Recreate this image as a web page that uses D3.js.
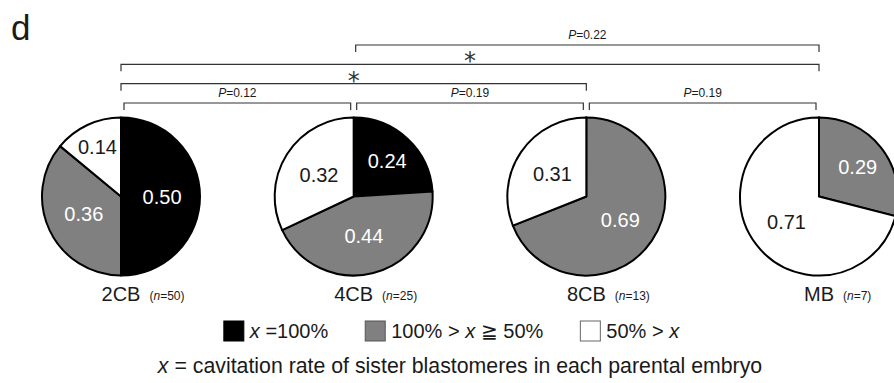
<!DOCTYPE html>
<meta charset="utf-8">
<style>
body { margin: 0; background: #fff; }
text { font-family: "Liberation Sans", Arial, Helvetica, sans-serif; fill: #1a1a1a; }
.bracket { fill: none; stroke: #333; stroke-width: 1.2px; }
.slice { stroke: #000; stroke-width: 2px; stroke-linejoin: round; }
</style>
<body>
<script src="https://d3js.org/d3.v7.min.js"></script>
<script>

// stages and their sample size
var stages = ['2CB', '4CB', '8CB', 'MB'];
var counts = [50, 25, 13, 7];

// proportion per category, in order [x=100%, 100%>x>=50%, 50%>x]
var full    = [0.50, 0.24, 0.00, 0.00];
var partial = [0.36, 0.44, 0.69, 0.29];
var low     = [0.14, 0.32, 0.31, 0.71];

var categories = ['full', 'partial', 'low'];
var catColor = {full: '#000000', partial: '#808080', low: '#ffffff'};

// pairwise comparisons
var comparisons = [
    ['4CB', 'MB', 'P=0.22'],
    ['2CB', 'MB', '*'],
    ['2CB', '8CB', '*'],
    ['2CB', '4CB', 'P=0.12'],
    ['4CB', '8CB', 'P=0.19'],
    ['8CB', 'MB', 'P=0.19']
];
var tiers = [0, 1, 2, 3, 3, 3];

var W = 894, H = 383;
var svg = d3.select("body").append("svg").attr("width", W).attr("height", H);

var x = d3.scalePoint().domain(stages).range([121, 819]);
var cy = 196.5, r = 79;
var tierY = d3.scaleLinear().domain([0, 3]).range([45, 103]);

svg.append("text").attr("x", 11).attr("y", 40)
    .style("font-size", "35px").text("d");

// pies
var pie = d3.pie().sort(null).value(d => d.v);
var arc = d3.arc().innerRadius(0).outerRadius(r);

stages.forEach(function(s, i) {
    var vals = [full[i], partial[i], low[i]].map((v, k) => ({cat: categories[k], v: v}));
    var g = svg.append("g").attr("transform", "translate(" + x(s) + "," + cy + ")");
    var arcs = pie(vals);
    g.selectAll("path").data(arcs).enter().append("path")
        .attr("class", "slice")
        .attr("d", arc)
        .attr("fill", d => catColor[d.data.cat]);
    g.selectAll("text.val").data(arcs.filter(d => d.data.v > 0)).enter().append("text")
        .attr("class", "val")
        .attr("transform", function(d) {
            var v = d.data.v;
            var lr = r * (v < 0.2 ? 0.7 : v < 0.3 ? 0.62 : 0.52);
            return "translate(" + d3.arc().innerRadius(lr).outerRadius(lr).centroid(d) + ")";
        })
        .attr("text-anchor", "middle")
        .attr("dy", "0.36em")
        .style("font-size", "20px")
        .style("fill", d => d.data.cat == 'low' ? '#1a1a1a' : '#fff')
        .text(d => d3.format(".2f")(d.data.v));

    var lab = svg.append("text").attr("x", x(s)).attr("y", 301)
        .attr("text-anchor", "middle").style("font-size", "20px").text(s);
    var lw = lab.node().getComputedTextLength();
    var nt = svg.append("text").attr("x", x(s) + lw / 2 + 9).attr("y", 300)
        .style("font-size", "12px");
    nt.append("tspan").text("(");
    nt.append("tspan").style("font-style", "italic").text("n");
    nt.append("tspan").text("=" + counts[i] + ")");
});

// brackets
comparisons.forEach(function(c, i) {
    var t = tiers[i];
    var y = tierY(t);
    var x0 = x(c[0]), x1 = x(c[1]);
    if (t == 3) { x0 += 3; x1 -= 3; }
    else if (c[0] != '2CB') { x0 += 2; }
    svg.append("path").attr("class", "bracket")
        .attr("d", "M" + x0 + "," + (y + 7) + "V" + y + "H" + x1 + "V" + (y + 7));
    var mx = (x0 + x1) / 2;
    if (c[2] == '*') {
        svg.append("text").attr("x", mx).attr("y", y - 10)
            .attr("text-anchor", "middle").attr("dy", "0.62em")
            .style("font-family", "DejaVu Sans").style("font-size", "24px")
            .style("fill", "#333")
            .text("*");
    } else {
        var pt = svg.append("text").attr("x", mx).attr("y", y - 6)
            .attr("text-anchor", "middle").style("font-size", "12px");
        pt.append("tspan").style("font-style", "italic").text("P");
        pt.append("tspan").text(c[2].slice(1));
    }
});

// legend
var legendParts = [
    [['x', true], [' =100%', false]],
    [['100% > ', false], ['x', true], [' \u2267 50%', false]],
    [['50% > ', false], ['x', true]]
];
var lg = svg.append("g");
var cx = 0;
categories.forEach(function(cat, i) {
    lg.append("rect").attr("x", cx).attr("y", 321).attr("width", 20).attr("height", 20)
        .attr("fill", catColor[cat]).attr("stroke", cat == 'low' ? '#666' : (cat == 'full' ? '#000' : '#555'))
        .attr("stroke-width", 1);
    var t = lg.append("text").attr("x", cx + 26).attr("y", 338).style("font-size", "20px");
    legendParts[i].forEach(function(p) {
        t.append("tspan").style("font-style", p[1] ? "italic" : "normal").text(p[0]);
    });
    cx += 26 + t.node().getComputedTextLength() + 37;
});
var lgW = cx - 37;
lg.attr("transform", "translate(" + (451.5 - lgW / 2) + ",0)");

// caption
var cap = svg.append("text").attr("x", 460).attr("y", 373)
    .attr("text-anchor", "middle").style("font-size", "21.3px");
cap.append("tspan").style("font-style", "italic").text("x");
cap.append("tspan").text(" = cavitation rate of sister blastomeres in each parental embryo");
</script>
</body>
